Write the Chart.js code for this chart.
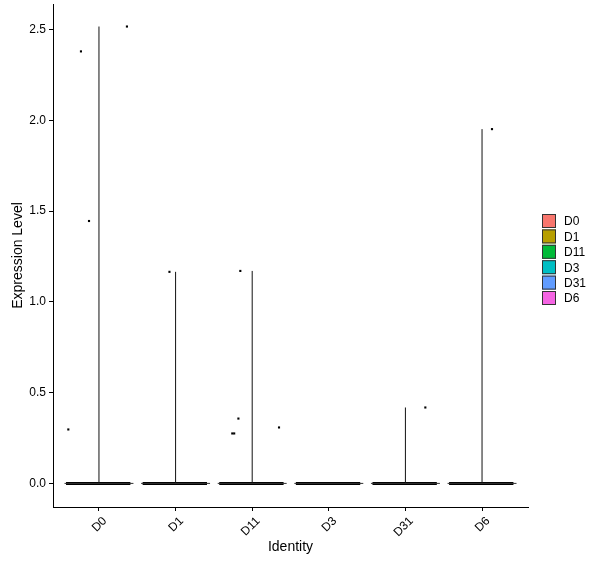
<!DOCTYPE html>
<html>
<head>
<meta charset="utf-8">
<script src="https://cdn.jsdelivr.net/npm/chart.js@4"></script>
<style>
  html, body { margin: 0; padding: 0; background: #fff; }
  #wrap { width: 600px; height: 568px; }
</style>
</head>
<body>
<div id="wrap"><canvas id="violin"></canvas></div>
<script>
const categories = ['D0', 'D1', 'D11', 'D3', 'D31', 'D6'];
const colors = ['#F8766D', '#B79F00', '#00BA38', '#00BFC4', '#619CFF', '#F564E3'];
// highest value in each group (top of the thin violin)
const groupMax = [2.516, 1.165, 1.170, 0, 0.418, 1.951];
// non-zero cells: group index, jitter offset, expression value
const pointGroup = [0, 0, 0, 0, 1, 2, 2, 2, 2, 2, 4, 5];
const pointJitter = [-0.40, -0.235, -0.13, 0.365, -0.08, -0.26, -0.235, -0.18, -0.155, 0.35, 0.26, 0.13];
const pointValue = [0.297, 2.379, 1.445, 2.516, 1.165, 0.275, 0.275, 0.357, 1.170, 0.308, 0.418, 1.951];
const yTicks = [0, 0.5, 1.0, 1.5, 2.0, 2.5];

const datasets = [];
categories.forEach((c, i) => {
    // violin outline: flat at zero with a hair-thin spike
    datasets.push({
        type: 'line',
        data: [{x: i - 0.45, y: 0}, {x: i + 0.45, y: 0}],
        borderColor: '#333333',
        borderWidth: 1,
        pointRadius: 0
    });
    if (groupMax[i] > 0) {
        datasets.push({
            type: 'line',
            data: [{x: i, y: 0}, {x: i, y: groupMax[i]}],
            borderColor: '#111111',
            borderWidth: 1,
            pointRadius: 0
        });
    }
    // the many zero-valued points pile up into a thick bar
    datasets.push({
        type: 'line',
        data: [{x: i - 0.43, y: 0}, {x: i + 0.41, y: 0}],
        borderColor: '#000000',
        borderWidth: 3,
        pointRadius: 0
    });
});
datasets.push({
    type: 'scatter',
    data: pointValue.map((v, k) => ({x: pointGroup[k] + pointJitter[k], y: v})),
    backgroundColor: '#000000',
    borderWidth: 0,
    pointStyle: 'rect',
    pointRadius: 1.5
});

const legendPlugin = {
    id: 'idLegend',
    afterDraw(chart) {
        const ctx = chart.ctx;
        ctx.save();
        ctx.font = '12px "Liberation Sans", Arial, sans-serif';
        ctx.textBaseline = 'middle';
        ctx.textAlign = 'left';
        categories.forEach((c, i) => {
            const cy = 221 + i * 15.4;
            ctx.fillStyle = colors[i];
            ctx.fillRect(542, cy - 7, 14, 14);
            ctx.strokeStyle = '#333333';
            ctx.lineWidth = 1;
            ctx.strokeRect(542.5, cy - 6.5, 13, 13);
            ctx.fillStyle = '#000000';
            ctx.fillText(c, 564, cy + 1);
        });
        ctx.restore();
    }
};

const fontFamily = '"Liberation Sans", Arial, sans-serif';

new Chart(document.getElementById('violin'), {
    type: 'scatter',
    data: { datasets: datasets },
    plugins: [legendPlugin],
    options: {
        responsive: true,
        maintainAspectRatio: false,
        animation: false,
        layout: { padding: { top: 3, right: 72, left: 0, bottom: 0 } },
        plugins: {
            legend: { display: false },
            tooltip: { enabled: false }
        },
        scales: {
            x: {
                type: 'linear',
                min: -0.6,
                max: 5.6,
                afterBuildTicks: axis => {
                    axis.ticks = categories.map((c, i) => ({value: i}));
                },
                afterFit: axis => {
                    axis.height = 61;
                    axis.paddingLeft = 0;
                    axis.paddingRight = 0;
                },
                grid: { drawOnChartArea: false, drawTicks: true, tickLength: 4, color: '#000000' },
                border: { color: '#000000', width: 1 },
                ticks: {
                    autoSkip: false,
                    minRotation: 45,
                    maxRotation: 45,
                    padding: 3,
                    labelOffset: 6,
                    color: '#000000',
                    font: { family: fontFamily, size: 12 },
                    callback: v => categories[v]
                },
                title: {
                    display: true,
                    text: 'Identity',
                    color: '#000000',
                    font: { family: fontFamily, size: 14 },
                    padding: { top: 0, bottom: 12 }
                }
            },
            y: {
                min: -0.13,
                max: 2.64,
                afterBuildTicks: axis => {
                    axis.ticks = yTicks.map(v => ({value: v}));
                },
                afterFit: axis => {
                    axis.width = 53;
                    axis.paddingTop = 0;
                    axis.paddingBottom = 0;
                },
                grid: { drawOnChartArea: false, drawTicks: true, tickLength: 4, color: '#000000' },
                border: { color: '#000000', width: 1 },
                ticks: {
                    padding: 3,
                    color: '#000000',
                    font: { family: fontFamily, size: 12 },
                    callback: v => v.toFixed(1)
                },
                title: {
                    display: true,
                    text: 'Expression Level',
                    color: '#000000',
                    font: { family: fontFamily, size: 14 },
                    padding: { top: 10, bottom: 0 }
                }
            }
        }
    }
});
</script>
</body>
</html>
